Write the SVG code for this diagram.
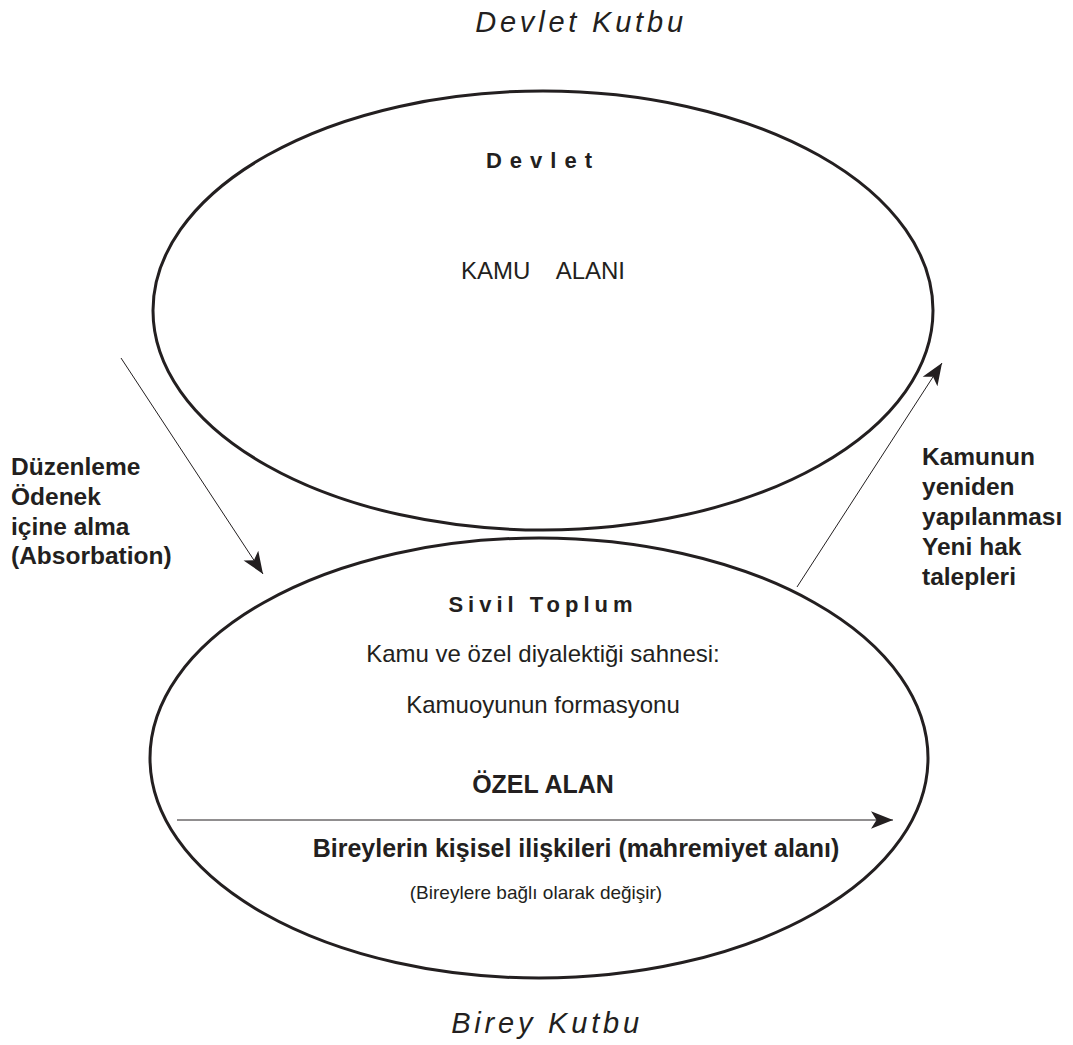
<svg xmlns="http://www.w3.org/2000/svg" width="1073" height="1045" viewBox="0 0 1073 1045">
<style>
.t{font-family:"Liberation Sans",Arial,sans-serif;fill:#231f20}
.b{font-weight:bold}
.i{font-style:italic;font-size:29px;letter-spacing:3.8px}
.e{fill:none;stroke:#231f20;stroke-width:3}
.c{fill:none;stroke:#231f20;stroke-width:1}
</style>
<defs>
<marker id="ah" viewBox="0 0 10 10" refX="10" refY="5" markerWidth="22" markerHeight="22" markerUnits="userSpaceOnUse" orient="auto">
<path d="M0,1 L10,5 L0,9 L2.5,5 Z" fill="#231f20"/>
</marker>
</defs>
<rect width="1073" height="1045" fill="#fff"/>
<text class="t i" x="581" y="32" text-anchor="middle">Devlet Kutbu</text>
<g id="devlet">
<ellipse class="e" cx="543" cy="310.5" rx="390" ry="219.5"/>
<text class="t b" x="543" y="168" text-anchor="middle" font-size="22" letter-spacing="8">Devlet</text>
<text class="t" x="543" y="279" text-anchor="middle" font-size="24" xml:space="preserve">KAMU    ALANI</text>
</g>
<g id="sivil">
<ellipse class="e" cx="539" cy="758" rx="389" ry="220"/>
<text class="t b" x="543" y="612" text-anchor="middle" font-size="22" letter-spacing="5">Sivil Toplum</text>
<text class="t" x="543" y="662" text-anchor="middle" font-size="24">Kamu ve özel diyalektiği sahnesi:</text>
<text class="t" x="543" y="713" text-anchor="middle" font-size="24">Kamuoyunun formasyonu</text>
<text class="t b" x="543" y="793" text-anchor="middle" font-size="25">ÖZEL ALAN</text>
<text class="t b" x="576" y="857" text-anchor="middle" font-size="25">Bireylerin kişisel ilişkileri (mahremiyet alanı)</text>
<text class="t" x="536" y="899" text-anchor="middle" font-size="19">(Bireylere bağlı olarak değişir)</text>
</g>
<g id="left-label">
<text class="t b" font-size="24.5"><tspan x="11" y="475">Düzenleme</tspan><tspan x="11" y="505">Ödenek</tspan><tspan x="11" y="535">içine alma</tspan><tspan x="11" y="564">(Absorbation)</tspan></text>
</g>
<g id="right-label">
<text class="t b" font-size="24.5"><tspan x="922" y="465">Kamunun</tspan><tspan x="922" y="495">yeniden</tspan><tspan x="922" y="525">yapılanması</tspan><tspan x="922" y="555">Yeni hak</tspan><tspan x="922" y="585">talepleri</tspan></text>
</g>
<text class="t i" x="547" y="1033" text-anchor="middle">Birey Kutbu</text>
<g id="connectors">
<line class="c" x1="121" y1="358" x2="263" y2="574" marker-end="url(#ah)"/>
<line class="c" x1="797" y1="587" x2="942" y2="363" marker-end="url(#ah)"/>
<line class="c" x1="177" y1="820" x2="893" y2="820" marker-end="url(#ah)"/>
</g>
</svg>
